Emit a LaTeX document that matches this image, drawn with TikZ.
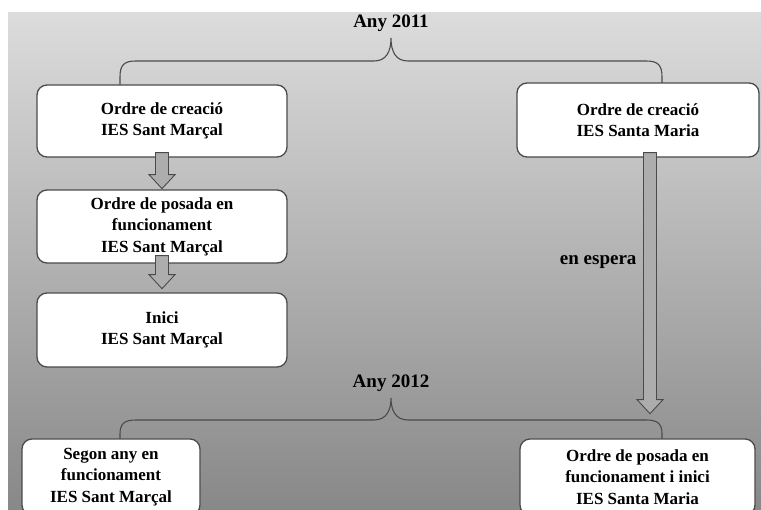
\documentclass[tikz,border=0pt]{standalone}
\usepackage{fontspec}
\setmainfont{Liberation Serif}
\usetikzlibrary{calc}
\definecolor{bgtop}{HTML}{DCDCDC}
\definecolor{bgbot}{HTML}{888888}
\definecolor{edge}{HTML}{4A4A4A}

\begin{document}
\begin{tikzpicture}[x=1pt,y=-1pt,font=\fontsize{17}{21.5}\selectfont\bfseries,
 box/.style={draw=edge,fill=white,rounded corners=10pt,line width=1.3pt,align=center,inner sep=0pt},
 year/.style={font=\fontsize{19}{22}\selectfont\bfseries},
 brace/.style={draw=edge,line width=1.1pt},
 downarr/.pic={\draw[draw=edge,line width=.9pt,left color=black!32,middle color=black!12,right color=black!32]
   (-6.5,0) -- (-6.5,#1-14) -- (-13,#1-14) -- (0,#1) -- (13,#1-14) -- (6.5,#1-14) -- (6.5,0) -- cycle;}]
\clip (0,0) rectangle (761,510);
\fill[white] (0,0) rectangle (761,510);
\fill[top color=bgtop,bottom color=bgbot] (8,13) rectangle (761,510);

% any 2011
\node[year] (y1) at (391,23) {Any 2011};
\draw[brace] (120,85) -- (120,77) .. controls (120,65) and (124,61) .. (136,61) -- (374,61)
  .. controls (386,61) and (391,52) .. (391,38) .. controls (391,52) and (396,61) .. (408,61)
  -- (646,61) .. controls (658,61) and (662,65) .. (662,77) -- (662,85);
\node[box,minimum width=250pt,minimum height=72pt] (c1) at (162,121) {Ordre de creació\\IES Sant Marçal};
\node[box,minimum width=242pt,minimum height=74pt] (c2) at (638,120) {Ordre de creació\\IES Santa Maria};
\node[box,minimum width=250pt,minimum height=73pt] (p1) at (162,226.5) {Ordre de posada en\\funcionament\\IES Sant Marçal};
\node[box,minimum width=250pt,minimum height=74pt] (i1) at (162,330) {Inici\\IES Sant Marçal};
\pic at ($(c1.south)+(0,-5)$) {downarr=36};
\pic at ($(p1.south)+(0,-8)$) {downarr=33};

% any 2012
\node[year] (y2) at (391,383) {Any 2012};
\draw[brace] (120,439) -- (120,434) .. controls (120,424) and (124,420) .. (136,420) -- (374,420)
  .. controls (386,420) and (391,411) .. (391,398) .. controls (391,411) and (396,420) .. (408,420)
  -- (646,420) .. controls (658,420) and (662,424) .. (662,434) -- (662,439);
\node[box,minimum width=178pt,minimum height=76pt] (s1) at (111,477) {Segon any en\\funcionament\\IES Sant Marçal};
\node[box,minimum width=235pt,minimum height=76pt] (p2) at (637.5,477) {Ordre de posada en\\funcionament i inici\\IES Santa Maria};
\pic at ($(c2.south)+(12,-5)$) {downarr=261};
\node[year,anchor=east] (w) at (640,262) {en espera};
\end{tikzpicture}
\end{document}
